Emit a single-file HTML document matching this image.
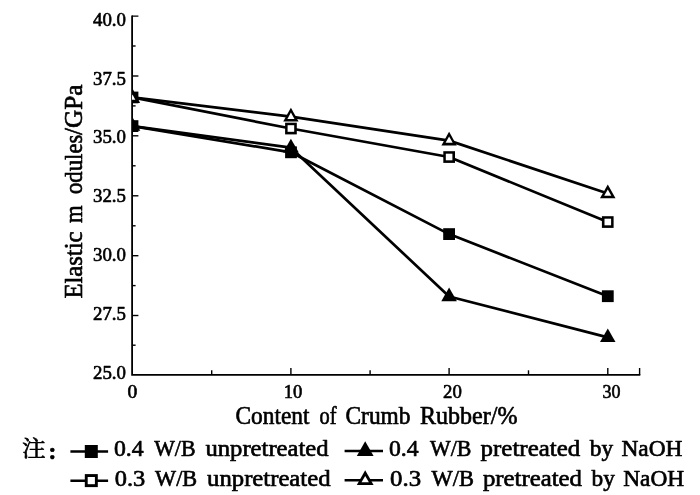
<!DOCTYPE html>
<html><head><meta charset="utf-8"><title>Elastic modules</title>
<style>html,body{margin:0;padding:0;background:#fff}svg{display:block}text{font-family:"Liberation Serif","Noto Serif CJK SC",serif;fill:#000;stroke:#000;stroke-width:0.65px;stroke-linejoin:round}</style></head><body>
<svg width="700" height="495" viewBox="0 0 700 495">
<rect width="700" height="495" fill="#fff"/>
<defs><clipPath id="c"><rect x="132" y="0" width="568" height="380"/></clipPath></defs>
<g stroke="#000" stroke-width="1.4" fill="none">
<path d="M132.1 15.4V375.85M131.2 374.95H640.3" stroke-width="1.8"/>
<path d="M132 16.1h6.4M639.6 374.9v-7"/>
<path d="M132 76.0h6.4"/>
<path d="M132 135.8h6.4"/>
<path d="M132 195.8h6.4"/>
<path d="M132 255.7h6.4"/>
<path d="M132 315.5h6.4"/>
<path d="M132 46.0h3.6"/>
<path d="M132 105.9h3.6"/>
<path d="M132 165.8h3.6"/>
<path d="M132 225.8h3.6"/>
<path d="M132 285.6h3.6"/>
<path d="M132 345.2h3.6"/>
<path d="M290.9 374.9v-7"/>
<path d="M449.1 374.9v-7"/>
<path d="M607.8 374.9v-7"/>
<path d="M211.7 374.9v-4.6"/>
<path d="M370.1 374.9v-4.6"/>
<path d="M528.5 374.9v-4.6"/>
</g>
<g clip-path="url(#c)">
<g stroke="#000" stroke-width="2.7" fill="none" stroke-linejoin="round">
<polyline points="132.5,97.4 290.9,116.7 449.1,140.6 607.8,193.5"/>
<polyline points="132.5,97.4 290.9,128.5 449.1,157.0 607.8,222.0"/>
<polyline points="132.5,126.1 290.9,152.3 449.1,234.1 607.8,296.2"/>
<polyline points="132.5,126.1 290.9,147.7 449.1,296.5 607.8,337.4"/>
</g>
<rect x="126.6" y="120.2" width="11.8" height="11.8" fill="#000"/>
<rect x="285.1" y="146.4" width="11.8" height="11.8" fill="#000"/>
<rect x="443.2" y="228.2" width="11.8" height="11.8" fill="#000"/>
<rect x="601.9" y="290.3" width="11.8" height="11.8" fill="#000"/>
<polygon points="132.5,117.2 140.3,130.8 124.7,130.8" fill="#000"/>
<polygon points="290.9,138.8 298.8,152.4 283.1,152.4" fill="#000"/>
<polygon points="449.1,287.6 456.9,301.2 441.3,301.2" fill="#000"/>
<polygon points="607.8,328.5 615.5,342.1 600.0,342.1" fill="#000"/>
<rect x="126.7" y="91.6" width="11.7" height="11.7" fill="#000"/><rect x="129.9" y="94.9" width="5.1" height="5.1" fill="#fff"/>
<rect x="285.1" y="122.7" width="11.7" height="11.7" fill="#000"/><rect x="287.6" y="125.2" width="6.6" height="6.6" fill="#fff"/>
<rect x="443.3" y="151.2" width="11.7" height="11.7" fill="#000"/><rect x="445.8" y="153.7" width="6.6" height="6.6" fill="#fff"/>
<rect x="601.9" y="216.2" width="11.7" height="11.7" fill="#000"/><rect x="604.5" y="218.7" width="6.6" height="6.6" fill="#fff"/>
<polygon points="132.5,88.5 140.1,103.1 124.9,103.1" fill="#000"/><polygon points="132.5,94.5 135.3,99.8 129.7,99.8" fill="#fff"/>
<polygon points="290.9,107.8 298.6,121.5 283.2,121.5" fill="#000"/><polygon points="290.9,112.6 294.5,118.9 287.4,118.9" fill="#fff"/>
<polygon points="449.1,131.7 456.8,145.4 441.4,145.4" fill="#000"/><polygon points="449.1,136.5 452.7,142.8 445.6,142.8" fill="#fff"/>
<polygon points="607.8,184.6 615.5,198.3 600.0,198.3" fill="#000"/><polygon points="607.8,189.4 611.3,195.7 604.2,195.7" fill="#fff"/>
</g>
<text x="93.0" y="25.6" font-size="19.6" textLength="33.0" lengthAdjust="spacingAndGlyphs" text-anchor="start">40.0</text>
<text x="93.0" y="84.5" font-size="19.6" textLength="33.0" lengthAdjust="spacingAndGlyphs" text-anchor="start">37.5</text>
<text x="93.0" y="143.4" font-size="19.6" textLength="33.0" lengthAdjust="spacingAndGlyphs" text-anchor="start">35.0</text>
<text x="93.0" y="202.3" font-size="19.6" textLength="33.0" lengthAdjust="spacingAndGlyphs" text-anchor="start">32.5</text>
<text x="93.0" y="261.2" font-size="19.6" textLength="33.0" lengthAdjust="spacingAndGlyphs" text-anchor="start">30.0</text>
<text x="93.0" y="320.1" font-size="19.6" textLength="33.0" lengthAdjust="spacingAndGlyphs" text-anchor="start">27.5</text>
<text x="93.0" y="379.0" font-size="19.6" textLength="33.0" lengthAdjust="spacingAndGlyphs" text-anchor="start">25.0</text>
<text x="127.4" y="397.5" font-size="19.7" textLength="9.8" lengthAdjust="spacingAndGlyphs" text-anchor="start">0</text>
<text x="283.7" y="397.5" font-size="19.7" textLength="18.6" lengthAdjust="spacingAndGlyphs" text-anchor="start">10</text>
<text x="443.1" y="397.5" font-size="19.7" textLength="18.8" lengthAdjust="spacingAndGlyphs" text-anchor="start">20</text>
<text x="602.5" y="397.5" font-size="19.7" textLength="18.0" lengthAdjust="spacingAndGlyphs" text-anchor="start">30</text>
<text x="235.5" y="423.7" font-size="24.6" textLength="74.0" lengthAdjust="spacingAndGlyphs" text-anchor="start">Content</text>
<text x="319.5" y="423.7" font-size="24.6" textLength="17.0" lengthAdjust="spacingAndGlyphs" text-anchor="start">of</text>
<text x="345.5" y="423.7" font-size="24.6" textLength="65.0" lengthAdjust="spacingAndGlyphs" text-anchor="start">Crumb</text>
<text x="420.0" y="423.7" font-size="24.6" textLength="97.5" lengthAdjust="spacingAndGlyphs" text-anchor="start">Rubber/%</text>
<g transform="translate(81.7 0) rotate(-90)">
<text x="-298.6" y="0.0" font-size="25.2" textLength="67.1" lengthAdjust="spacingAndGlyphs" text-anchor="start">Elastic</text>
<text x="-222.9" y="0.0" font-size="25.2" textLength="17.6" lengthAdjust="spacingAndGlyphs" text-anchor="start">m</text>
<text x="-194.0" y="0.0" font-size="25.2" textLength="59.3" lengthAdjust="spacingAndGlyphs" text-anchor="start">odules</text>
<text x="-135.1" y="0.0" font-size="25.2" textLength="50.6" lengthAdjust="spacingAndGlyphs" text-anchor="start">/GPa</text>
</g>
<text x="21.9" y="456.3" font-size="21.6" textLength="23.6" lengthAdjust="spacingAndGlyphs" text-anchor="start">注</text>
<text x="48.6" y="459.0" font-size="23.4" text-anchor="start" font-weight="bold" stroke-width="0.1">:</text>
<path d="M70.4 451.55H108.1M344.6 451.1H383" stroke="#000" stroke-width="2.5"/>
<rect x="84.8" y="445.0" width="13.0" height="13.0" fill="#000"/>
<polygon points="365.2,441.2 373.6,455.9 356.8,455.9" fill="#000"/>
<text x="113.9" y="456.3" font-size="22.8" textLength="29.7" lengthAdjust="spacingAndGlyphs" text-anchor="start">0.4</text>
<text x="154.2" y="456.3" font-size="22.8" textLength="41.3" lengthAdjust="spacingAndGlyphs" text-anchor="start">W/B</text>
<text x="205.5" y="456.3" font-size="22.8" textLength="123.0" lengthAdjust="spacingAndGlyphs" text-anchor="start">unpretreated</text>
<text x="388.9" y="456.3" font-size="22.8" textLength="29.6" lengthAdjust="spacingAndGlyphs" text-anchor="start">0.4</text>
<text x="430.1" y="456.3" font-size="22.8" textLength="41.4" lengthAdjust="spacingAndGlyphs" text-anchor="start">W/B</text>
<text x="480.6" y="456.3" font-size="22.8" textLength="99.6" lengthAdjust="spacingAndGlyphs" text-anchor="start">pretreated</text>
<text x="589.8" y="456.3" font-size="22.8" textLength="23.3" lengthAdjust="spacingAndGlyphs" text-anchor="start">by</text>
<text x="621.5" y="456.3" font-size="22.8" textLength="61.0" lengthAdjust="spacingAndGlyphs" text-anchor="start">NaOH</text>
<path d="M70.4 480.65H108.1M344.6 480.2H383" stroke="#000" stroke-width="2.5"/>
<rect x="84.8" y="474.1" width="13.0" height="13.0" fill="#000"/><rect x="87.7" y="477.0" width="7.2" height="7.2" fill="#fff"/>
<polygon points="365.2,470.3 373.6,485.0 356.8,485.0" fill="#000"/><polygon points="365.2,475.9 368.9,482.3 361.5,482.3" fill="#fff"/>
<text x="114.8" y="485.6" font-size="22.8" textLength="30.5" lengthAdjust="spacingAndGlyphs" text-anchor="start">0.3</text>
<text x="155.1" y="485.6" font-size="22.8" textLength="42.1" lengthAdjust="spacingAndGlyphs" text-anchor="start">W/B</text>
<text x="207.1" y="485.6" font-size="22.8" textLength="123.4" lengthAdjust="spacingAndGlyphs" text-anchor="start">unpretreated</text>
<text x="390.1" y="485.6" font-size="22.8" textLength="31.0" lengthAdjust="spacingAndGlyphs" text-anchor="start">0.3</text>
<text x="431.5" y="485.6" font-size="22.8" textLength="42.4" lengthAdjust="spacingAndGlyphs" text-anchor="start">W/B</text>
<text x="482.9" y="485.6" font-size="22.8" textLength="99.0" lengthAdjust="spacingAndGlyphs" text-anchor="start">pretreated</text>
<text x="591.5" y="485.6" font-size="22.8" textLength="23.3" lengthAdjust="spacingAndGlyphs" text-anchor="start">by</text>
<text x="623.2" y="485.6" font-size="22.8" textLength="61.0" lengthAdjust="spacingAndGlyphs" text-anchor="start">NaOH</text>
</svg></body></html>
